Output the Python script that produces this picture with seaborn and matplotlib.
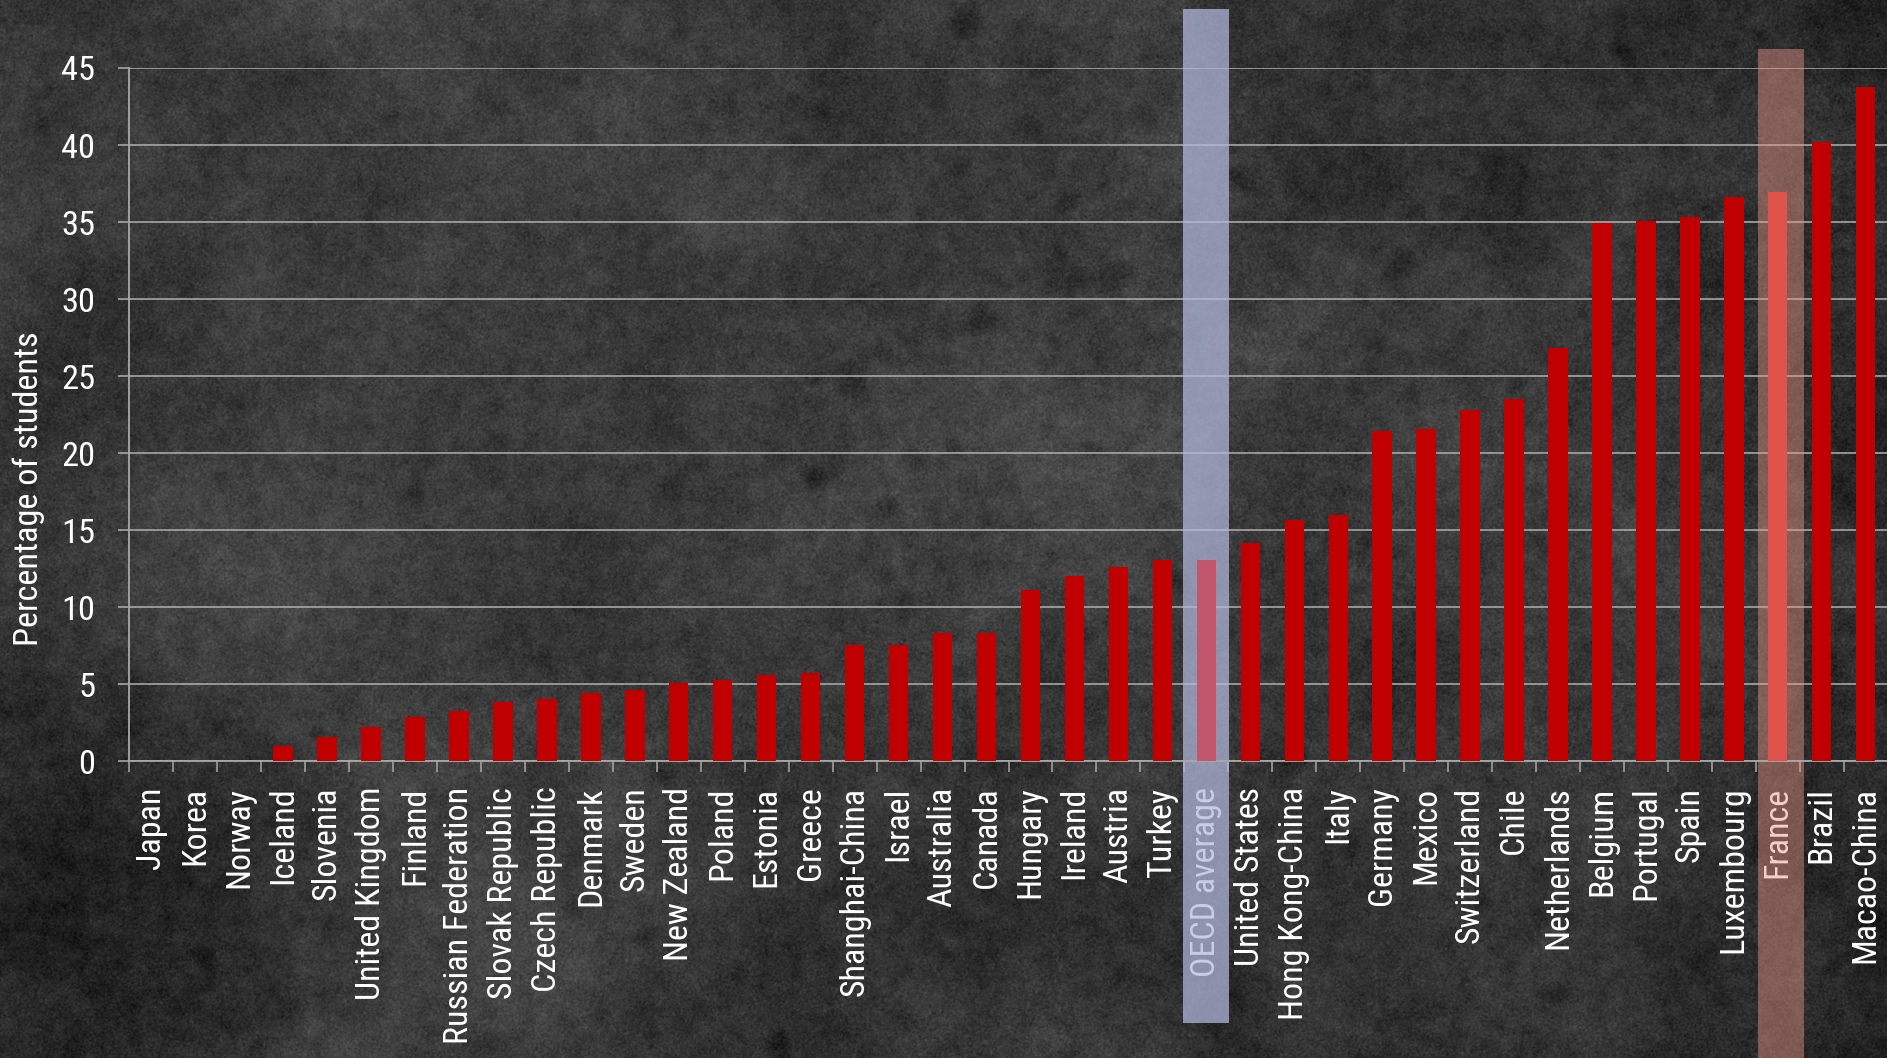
import os
import re
import numpy as np
import pandas as pd
import matplotlib
matplotlib.use("Agg")
import matplotlib.pyplot as plt
import matplotlib.transforms as mtransforms
from matplotlib import font_manager as fm
from matplotlib.font_manager import FontProperties
from matplotlib.patches import Rectangle
import seaborn as sns

# ---- data -------------------------------------------------------------
countries = [
    "Japan", "Korea", "Norway", "Iceland", "Slovenia", "United Kingdom",
    "Finland", "Russian Federation", "Slovak Republic", "Czech Republic",
    "Denmark", "Sweden", "New Zealand", "Poland", "Estonia", "Greece",
    "Shanghai-China", "Israel", "Australia", "Canada", "Hungary", "Ireland",
    "Austria", "Turkey", "OECD average", "United States", "Hong Kong-China",
    "Italy", "Germany", "Mexico", "Switzerland", "Chile", "Netherlands",
    "Belgium", "Portugal", "Spain", "Luxembourg", "France", "Brazil",
    "Macao-China",
]
pct_students = [
    0.0, 0.0, 0.0, 1.0, 1.55, 2.25,
    2.85, 3.25, 3.85, 4.05,
    4.45, 4.65, 5.1, 5.3, 5.6, 5.7,
    7.55, 7.55, 8.35, 8.35, 11.15, 12.0,
    12.6, 13.05, 13.05, 14.2, 15.65,
    16.0, 21.45, 21.55, 22.8, 23.5, 26.8,
    34.95, 35.1, 35.3, 36.6, 36.95, 40.2,
    43.75,
]
y_ticks = [0, 5, 10, 15, 20, 25, 30, 35, 40, 45]
y_label = "Percentage of students"
avg_name = "OECD average"
focus_name = "France"

# ---- style ------------------------------------------------------------
W_PX, H_PX, DPI = 1887, 1058, 100
sns.set_theme(style="white")
plt.rcParams["font.family"] = ["Liberation Sans", "DejaVu Sans"]
plt.rcParams["text.color"] = "white"

BAR_RED = "#c00000"
AVG_BAR = "#c2566c"
FOCUS_BAR = "#e0534b"
GRID = "#b0b0b0"
AXIS_GREY = "#a8a8a8"


def pick_narrow_font():
    """Prefer a narrow/condensed sans face; fall back to Liberation Sans."""
    skip = re.compile(r"Bold|Italic|Oblique|Light|Thin|Black|Medium|Semi|Extra|Ultra|Heavy|Mono")
    files = [f.fname for f in fm.fontManager.ttflist]
    prefs = [r"LiberationSansNarrow-Regular", r"LiberationSansNarrow",
             r"^NotoSans-Condensed", r"^OpenSans-Condensed", r"^Roboto-?Condensed",
             r"^DejaVuSansCondensed\."]
    for pat in prefs:
        for path in files:
            base = os.path.basename(path)
            if re.search(pat, base) and not skip.search(base.replace("Condensed", "")):
                return path
    return fm.findfont(FontProperties(family="Liberation Sans"))


FONT_FILE = pick_narrow_font()

fig = plt.figure(figsize=(W_PX / DPI, H_PX / DPI), dpi=DPI)
renderer = fig.canvas.get_renderer()


def fitted_font(sample, target_px):
    probe = fig.text(0, 0, sample, fontproperties=FontProperties(fname=FONT_FILE, size=20))
    width = probe.get_window_extent(renderer).width
    probe.remove()
    return FontProperties(fname=FONT_FILE, size=20 * target_px / width)


fp_xtick = fitted_font("United Kingdom", 213)
fp_ytick = fitted_font("45", 34)
fp_label = fitted_font(y_label, 314)


# ---- concrete-like backdrop ---------------------------------------------
def smooth_field(shape, sigma, rng):
    white = rng.standard_normal(shape)
    fy = np.fft.fftfreq(shape[0])[:, None]
    fx = np.fft.rfftfreq(shape[1])[None, :]
    kernel = np.exp(-2.0 * (np.pi * sigma) ** 2 * (fx ** 2 + fy ** 2))
    f = np.fft.irfft2(np.fft.rfft2(white) * kernel, s=shape)
    return f / f.std()


rng = np.random.default_rng(11)
shape = (H_PX, W_PX)
yy, xx = np.mgrid[0:1:H_PX * 1j, 0:1:W_PX * 1j]
tex = (
    58.0
    + 4.5 * smooth_field(shape, 110, rng)
    + 3.5 * smooth_field(shape, 30, rng)
    + 3.0 * smooth_field(shape, 5, rng)
    + 5.0 * smooth_field(shape, 0.7, rng)
)
spots = smooth_field(shape, 12, rng)
tex -= 10.0 * np.clip(spots - 1.6, 0, None)
tex -= 20.0 * np.clip((xx - 0.6) / 0.4, 0, 1) ** 1.5 * (1.0 - 0.3 * yy)
tex -= 14.0 * np.exp(-((xx - 0.0) ** 2 / 0.03 + (yy - 0.75) ** 2 / 0.08))
tex -= 6.0 * np.clip((yy - 0.7) / 0.3, 0, 1)
tex = np.clip(tex, 0, 255)

bg_ax = fig.add_axes([0, 0, 1, 1], zorder=-10)
bg_ax.imshow(tex, cmap="gray", vmin=0, vmax=255, aspect="auto",
             interpolation="nearest")
bg_ax.set_axis_off()

# ---- main axes ------------------------------------------------------------
x0_px, slot_px = 129.3, 43.96
zero_px, top_px = 761.3, 68.0
n = len(countries)
ax = fig.add_axes([
    x0_px / W_PX,
    1 - zero_px / H_PX,
    n * slot_px / W_PX,
    (zero_px - top_px) / H_PX,
])
ax.patch.set_alpha(0)
ax.set_axisbelow(True)

df = pd.DataFrame({"country": countries, "pct": pct_students})
colors = {c: BAR_RED for c in countries}
colors[avg_name] = AVG_BAR
colors[focus_name] = FOCUS_BAR

sns.barplot(data=df, x="country", y="pct", hue="country", palette=colors,
            width=0.44, saturation=1, legend=False, ax=ax)
for p in ax.patches:
    p.set_zorder(3)
    p.set_linewidth(0)

ax.set_xlabel("")
ax.set_ylabel("")

# y axis: gridlines, ticks, labels
ax.set_yticks(y_ticks)
ax.set_yticklabels([str(t) for t in y_ticks])
ax.yaxis.grid(True, color=GRID, linewidth=1.1)
ax.xaxis.grid(False)
ax.tick_params(axis="y", which="major", left=True, length=7.9, width=1.1,
               color=GRID, pad=16.5, labelcolor="white")

# x axis: category labels at centres, marks at the boundaries
ax.set_xticks(range(n))
ax.set_xticklabels(countries, rotation=90)
ax.set_xticks(np.arange(-0.5, n, 1.0), minor=True)
ax.tick_params(axis="x", which="major", length=0, pad=18.3,
               labelcolor="white")
ax.tick_params(axis="x", which="minor", bottom=True, length=7.9, width=1.1,
               color=AXIS_GREY)
for lbl in ax.get_xticklabels():
    lbl.set_fontproperties(fp_xtick)
    lbl.set_verticalalignment("top")
for lbl in ax.get_yticklabels():
    lbl.set_fontproperties(fp_ytick)

for side in ("top", "right"):
    ax.spines[side].set_visible(False)
for side in ("left", "bottom"):
    ax.spines[side].set_color(AXIS_GREY)
    ax.spines[side].set_linewidth(1.3)

# highlight bands spanning plot and labels
band_tf = mtransforms.blended_transform_factory(ax.transData, fig.transFigure)
i_avg = countries.index(avg_name)
i_focus = countries.index(focus_name)
ax.add_patch(Rectangle((i_avg - 0.53, 1 - 1022.7 / H_PX), 1.05,
                       (1022.7 - 9.0) / H_PX, transform=band_tf,
                       facecolor="#b4bade", alpha=0.72, linewidth=0,
                       clip_on=False, zorder=2))
ax.add_patch(Rectangle((i_focus - 0.45, -0.01), 1.05,
                       1.01 - 49.0 / H_PX, transform=band_tf,
                       facecolor="#e9978a", alpha=0.45, linewidth=0,
                       clip_on=False, zorder=2))
ax.set_xlim(-0.5, n - 0.5)
ax.set_ylim(0, 45)

fig.text(29 / W_PX, 1 - 489 / H_PX, y_label, rotation=90, ha="center",
         va="center", fontproperties=fp_label, color="white")

fig.savefig("out.png", dpi=DPI)
